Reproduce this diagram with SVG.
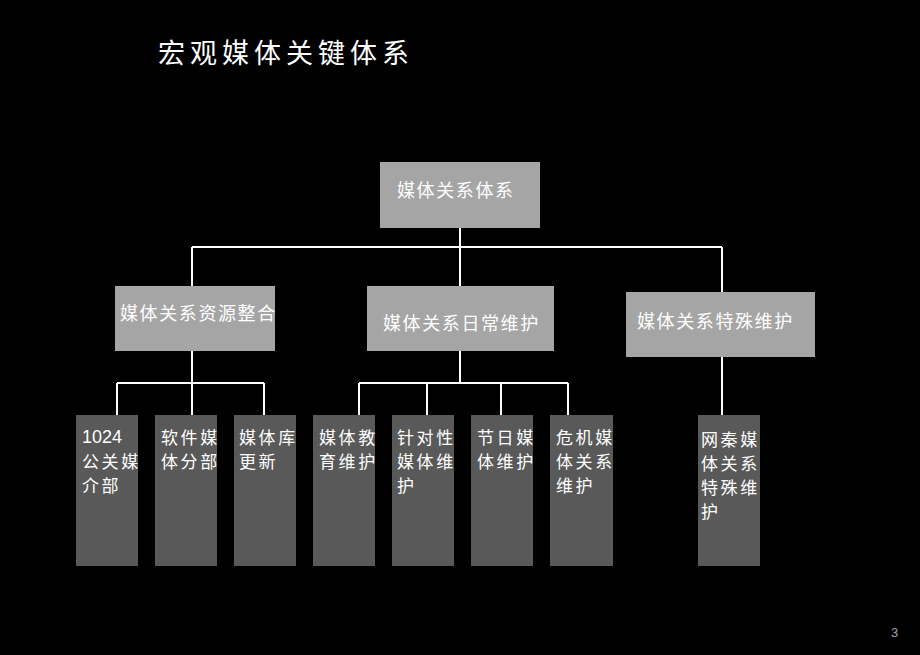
<svg xmlns="http://www.w3.org/2000/svg" width="920" height="655" viewBox="0 0 920 655">
<style>
.bg{fill:#000}
.top{fill:#a5a5a5}
.leaf{fill:#595959}
.t{font-family:"Noto Sans CJK SC","Noto Sans CJK JP",sans-serif;font-size:18px;fill:#fff;letter-spacing:1.6px}
.s{font-family:"Noto Sans CJK SC","Noto Sans CJK JP",sans-serif;font-size:17px;fill:#fff;letter-spacing:2.6px}
.num{font-family:"Liberation Sans",Arial,sans-serif;font-size:18px;fill:#fff}
.title{font-family:"Noto Sans CJK SC",sans-serif;font-size:27px;fill:#fff;letter-spacing:5px}
.ln{stroke:#fff;stroke-width:2;fill:none}
</style>
<rect class="bg" x="0" y="0" width="920" height="655"/>
<text class="title" x="158" y="63">宏观媒体关键体系</text>
<g id="connectors">
<path class="ln" d="M460 228V247M192 247H722M192 247V286M460 247V286M722 247V292"/>
<path class="ln" d="M192 351V383M117 383H264M117 383V415M192 383V415M264 383V415"/>
<path class="ln" d="M460 351V383M359 383H568M359 383V415M427 383V415M501 383V415M568 383V415"/>
<path class="ln" d="M722 357V415"/>
</g>
<g id="n-root"><rect class="top" x="380" y="162" width="160" height="66"/><text class="t" x="397" y="197">媒体关系体系</text></g>
<g id="n-resource"><rect class="top" x="115" y="286" width="160" height="65"/><text class="t" x="120" y="320">媒体关系资源整合</text></g>
<g id="n-daily"><rect class="top" x="367" y="286" width="187" height="65"/><text class="t" x="383" y="330">媒体关系日常维护</text></g>
<g id="n-special"><rect class="top" x="626" y="292" width="189" height="65"/><text class="t" x="637" y="328">媒体关系特殊维护</text></g>
<g id="n-1024"><rect class="leaf" x="76" y="415" width="62" height="151"/><text class="num" x="82" y="443">1024</text><text class="s" x="82" y="468">公关媒</text><text class="s" x="82" y="492">介部</text></g>
<g id="n-soft"><rect class="leaf" x="155" y="415" width="62" height="151"/><text class="s" x="161" y="444">软件媒</text><text class="s" x="161" y="468">体分部</text></g>
<g id="n-lib"><rect class="leaf" x="234" y="415" width="62" height="151"/><text class="s" x="239" y="444">媒体库</text><text class="s" x="239" y="468">更新</text></g>
<g id="n-edu"><rect class="leaf" x="313" y="415" width="62" height="151"/><text class="s" x="319" y="444">媒体教</text><text class="s" x="319" y="468">育维护</text></g>
<g id="n-target"><rect class="leaf" x="392" y="415" width="62" height="151"/><text class="s" x="397" y="444">针对性</text><text class="s" x="397" y="468">媒体维</text><text class="s" x="397" y="492">护</text></g>
<g id="n-holiday"><rect class="leaf" x="471" y="415" width="62" height="151"/><text class="s" x="477" y="444">节日媒</text><text class="s" x="477" y="468">体维护</text></g>
<g id="n-crisis"><rect class="leaf" x="550" y="415" width="63" height="151"/><text class="s" x="556" y="444">危机媒</text><text class="s" x="556" y="468">体关系</text><text class="s" x="556" y="492">维护</text></g>
<g id="n-netqin"><rect class="leaf" x="698" y="415" width="62" height="151"/><text class="s" x="701" y="446">网秦媒</text><text class="s" x="701" y="470">体关系</text><text class="s" x="701" y="494">特殊维</text><text class="s" x="701" y="518">护</text></g>
<text x="891" y="637" style="font-family:'Liberation Sans',Arial,sans-serif;font-size:13px;fill:#a0a0a0">3</text>
</svg>
